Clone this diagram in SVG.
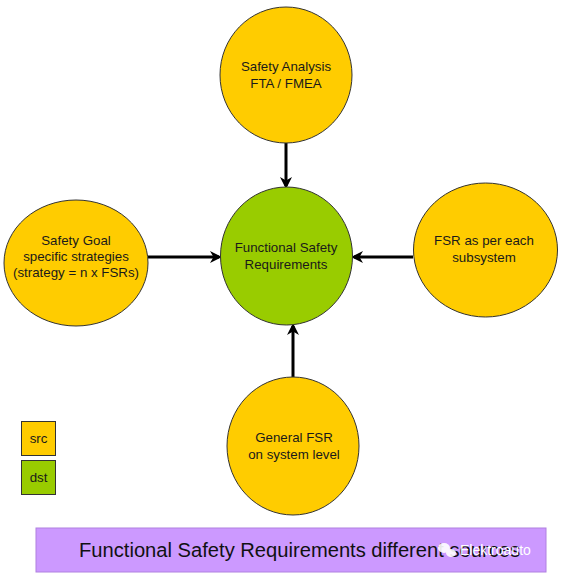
<svg xmlns="http://www.w3.org/2000/svg" width="571" height="581" viewBox="0 0 571 581">
<defs>
<style>
.src{fill:#FFCC00;stroke:#333;stroke-width:1}
.dst{fill:#99CC00;stroke:#333;stroke-width:1}
.t{font-family:"Liberation Sans",Arial,sans-serif;font-size:13.3px;fill:#1a1a1a;text-anchor:middle}
.c{stroke:#000;stroke-width:3;fill:none;marker-end:url(#ah)}
</style>
<marker id="ah" markerWidth="12" markerHeight="12" refX="9" refY="6" orient="auto" markerUnits="userSpaceOnUse" viewBox="0 0 12 12">
<path d="M0,0 L12,6 L0,12 L3.5,6 Z" fill="#000"/>
</marker>
</defs>
<rect width="571" height="581" fill="#fff"/>
<g id="connectors">
<line class="c" x1="286" y1="143" x2="286" y2="186"/>
<line class="c" x1="148" y1="257" x2="219" y2="257"/>
<line class="c" x1="413" y1="257" x2="354" y2="257"/>
<line class="c" x1="293" y1="377" x2="293" y2="326"/>
</g>
<g id="safety-analysis">
<ellipse class="src" cx="286" cy="75" rx="66" ry="68"/>
<text class="t" x="286" y="71">Safety Analysis</text>
<text class="t" x="286" y="88">FTA / FMEA</text>
</g>
<g id="fsr">
<ellipse class="dst" cx="286.5" cy="256" rx="66" ry="69"/>
<text class="t" x="286" y="252">Functional Safety</text>
<text class="t" x="286" y="269">Requirements</text>
</g>
<g id="safety-goal">
<ellipse class="src" cx="76" cy="263" rx="72" ry="63"/>
<text class="t" x="76" y="245">Safety Goal</text>
<text class="t" x="76" y="261">specific strategies</text>
<text class="t" x="76" y="277">(strategy = n x FSRs)</text>
</g>
<g id="fsr-subsystem">
<ellipse class="src" cx="485.5" cy="250" rx="72" ry="67"/>
<text class="t" x="484" y="245">FSR as per each</text>
<text class="t" x="484" y="262">subsystem</text>
</g>
<g id="general-fsr">
<ellipse class="src" cx="293" cy="446" rx="66" ry="69"/>
<text class="t" x="294" y="442">General FSR</text>
<text class="t" x="294" y="459">on system level</text>
</g>
<g id="legend-src">
<rect class="src" x="21.5" y="421.5" width="34" height="34"/>
<text class="t" x="38.5" y="443">src</text>
</g>
<g id="legend-dst">
<rect class="dst" x="21.5" y="460.5" width="34" height="34"/>
<text class="t" x="38.5" y="482">dst</text>
</g>
<g id="banner">
<rect x="36" y="528" width="510" height="44" fill="#CC99FF" stroke="#B080E0" stroke-width="1"/>
<text x="79" y="557" font-family="'Liberation Sans',Arial,sans-serif" font-size="20" fill="#111" textLength="441" lengthAdjust="spacingAndGlyphs">Functional Safety Requirements different sources</text>
<g fill="#fff" opacity="0.9">
<ellipse cx="444" cy="548" rx="6" ry="5"/>
<ellipse cx="451" cy="553" rx="5" ry="4"/>
</g>
<text x="460" y="555" font-family="'Liberation Sans',Arial,sans-serif" font-size="14" fill="#fff">Elektroauto</text>
</g>
</svg>
